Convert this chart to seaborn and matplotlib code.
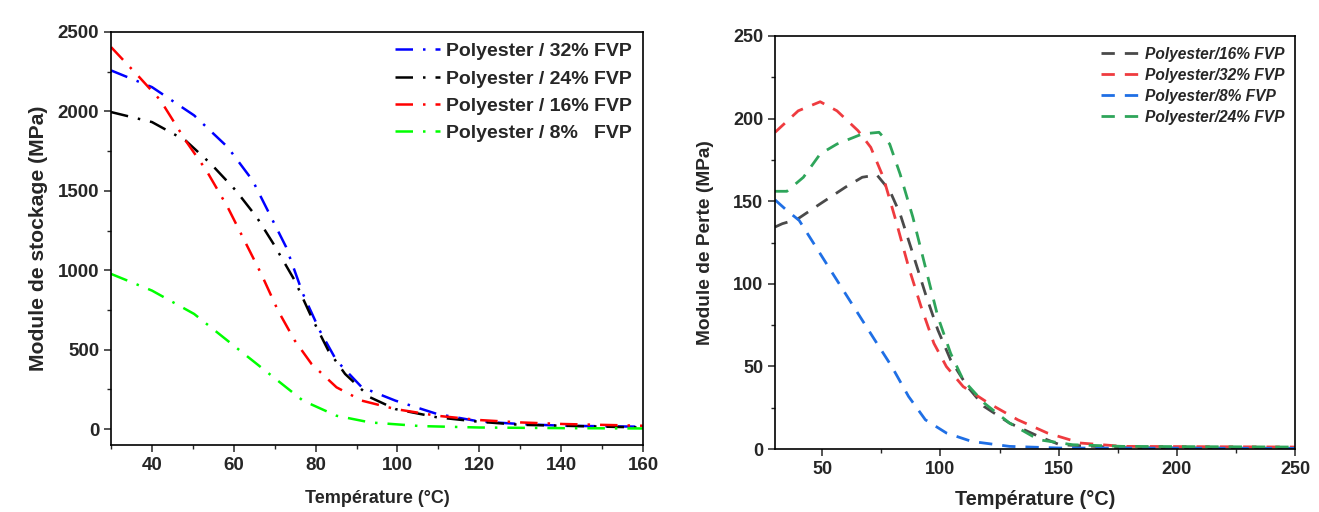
import numpy as np
import pandas as pd
import matplotlib
matplotlib.use("Agg")
import matplotlib.pyplot as plt
import seaborn as sns
from matplotlib.ticker import MultipleLocator

# ---------------- Left: storage modulus ----------------
t32 = [30, 40, 50.3, 58.5, 64.6, 68.7, 72.8, 76.9, 81, 85.1, 91.3, 99.5, 109.7, 120, 130, 140.5, 160]
e32 = [2258, 2153, 1975, 1775, 1565, 1355, 1145, 851, 620, 431, 263, 179, 95, 48, 32, 21, 15]

t24 = [30, 40, 48.2, 54.4, 60.5, 65.6, 69.7, 74.9, 79, 83.1, 87.2, 93.3, 99.5, 109.7, 120, 130, 160]
e24 = [1996, 1933, 1817, 1670, 1502, 1334, 1166, 935, 704, 494, 347, 200, 126, 74, 46, 27, 10]

t16 = [30, 36.9, 42.1, 48.2, 53.3, 58.5, 62.6, 66.7, 70.8, 74.9, 79, 85.1, 91.3, 99.5, 109.7, 120, 130, 140.5, 160]
e16 = [2405, 2216, 2069, 1817, 1628, 1397, 1187, 977, 746, 557, 410, 263, 179, 126, 84, 57, 42, 32, 21]

t08 = [30, 40, 50.3, 60.5, 68.7, 76.9, 85.1, 93.3, 105.6, 120, 140.5, 160]
e08 = [977, 872, 725, 515, 347, 179, 84, 42, 19, 10, 6, 4]

left_labels = ["Polyester / 32% FVP", "Polyester / 24% FVP", "Polyester / 16% FVP", "Polyester / 8%   FVP"]
left_colors = ["#0000ff", "#000000", "#ff0000", "#00ff00"]

# ---------------- Right: loss modulus ----------------
p16_t = [30, 33.1, 39.3, 49.1, 59.8, 66.9, 73.1, 78.5, 82.9, 88.3, 93.6, 98.9, 104.3, 111.4, 118.5, 129.2, 141.6, 150.5, 177, 250]
p16_v = [134.4, 136.4, 139, 148.4, 158.5, 164.5, 165.9, 156.5, 142.4, 118.3, 94.1, 72, 53.9, 37.8, 25.7, 15.7, 7.6, 2.6, 0.8, 0.4]

p32_t = [30, 39.8, 49.1, 56.2, 65.1, 70.5, 75.8, 81.1, 86.5, 91.8, 97.2, 102.5, 109.6, 120.3, 132.7, 145.2, 159.4, 177.2, 250]
p32_v = [191.7, 204.7, 210.2, 204.7, 192.7, 182.6, 164.5, 138.4, 110.2, 86.1, 64, 49.9, 37.8, 27.8, 17.7, 9.7, 3.6, 1.6, 1.2]

p08_t = [30, 35, 40.2, 47.3, 54.4, 63.3, 72.2, 79.4, 86.5, 93.6, 102.5, 113.2, 129.2, 150.5, 250]
p08_v = [150.8, 144.4, 138.4, 122.3, 106.2, 86.1, 66, 49.9, 31.8, 17.7, 9.7, 4.6, 1.6, 0.6, 0.4]

p24_t = [30, 35, 42, 49.1, 56.2, 66.9, 74, 78.5, 82.9, 88.3, 93.6, 98.9, 104.3, 109.6, 118.5, 129.2, 141.6, 155.9, 177, 250]
p24_v = [156, 156, 164.5, 178.6, 184.6, 190.7, 191.7, 184.6, 166.5, 140.4, 110.2, 80, 57.9, 41.8, 27.8, 15.7, 5.6, 2.6, 1.6, 1.2]

right_labels = ["Polyester/16% FVP", "Polyester/32% FVP", "Polyester/8% FVP", "Polyester/24% FVP"]
right_colors = ["#4a4a4a", "#ef3b3f", "#1f6fe5", "#2ea55a"]

sns.set_style("ticks")
plt.rcParams['font.family'] = ['Liberation Sans', 'DejaVu Sans']
plt.rcParams['font.weight'] = 'bold'
plt.rcParams['axes.labelweight'] = 'bold'

fig = plt.figure(figsize=(13.19, 5.12), dpi=100)
ax1 = fig.add_axes([0.0842, 0.1309, 0.4033, 0.8066])
ax2 = fig.add_axes([0.5876, 0.123, 0.3942, 0.8067])

left_series = [(t32, e32), (t24, e24), (t16, e16), (t08, e08)]
for (tx, ty), lab, col in zip(left_series, left_labels, left_colors):
    df = pd.DataFrame({"T": tx, "E": ty})
    sns.lineplot(data=df, x="T", y="E", ax=ax1, color=col, lw=1.8,
                 linestyle=(0, (7, 4, 1.0, 4)), label=lab, sort=True)

right_series = [(p16_t, p16_v), (p32_t, p32_v), (p08_t, p08_v), (p24_t, p24_v)]
for (tx, ty), lab, col in zip(right_series, right_labels, right_colors):
    df = pd.DataFrame({"T": tx, "E": ty})
    sns.lineplot(data=df, x="T", y="E", ax=ax2, color=col, lw=2.0,
                 linestyle=(0, (4.8, 3.6)), label=lab, sort=True)

# Left axes formatting
ax1.set_xlim(30, 160)
ax1.set_ylim(-100, 2500)
ax1.xaxis.set_major_locator(MultipleLocator(20))
ax1.xaxis.set_minor_locator(MultipleLocator(10))
ax1.yaxis.set_major_locator(MultipleLocator(500))
ax1.yaxis.set_minor_locator(MultipleLocator(250))
ax1.set_xlabel("Température (°C)", fontsize=13, fontweight='bold', labelpad=12)
ax1.set_ylabel("Module de stockage (MPa)", fontsize=15.2, fontweight='bold', labelpad=7)
leg1 = ax1.legend(loc="upper right", frameon=False, fontsize=14, handlelength=2.3,
                  labelspacing=0.5, handletextpad=0.35, borderaxespad=0.25, borderpad=0.3)
for txt in leg1.get_texts():
    txt.set_fontweight('bold')

# Right axes formatting
ax2.set_xlim(30, 250)
ax2.set_ylim(0, 250)
ax2.xaxis.set_major_locator(MultipleLocator(50))
ax2.xaxis.set_minor_locator(MultipleLocator(25))
ax2.yaxis.set_major_locator(MultipleLocator(50))
ax2.yaxis.set_minor_locator(MultipleLocator(25))
ax2.set_xlabel("Température (°C)", fontsize=14.3, fontweight='bold', labelpad=9)
ax2.set_ylabel("Module de Perte (MPa)", fontsize=13.8, fontweight='bold', labelpad=14)
leg2 = ax2.legend(loc="upper right", frameon=False, fontsize=11.2, handlelength=2.4,
                  labelspacing=0.38, handletextpad=0.4, borderaxespad=0.3, borderpad=0.4)
for txt in leg2.get_texts():
    txt.set_fontweight('bold')
    txt.set_fontstyle('italic')

for ax, ls in ((ax1, 13.5), (ax2, 13)):
    for sp in ax.spines.values():
        sp.set_visible(True)
        sp.set_linewidth(1.2)
        sp.set_color("black")
    ax.tick_params(which='major', direction='out', length=5, width=1.1, labelsize=ls,
                   top=False, right=False)
    ax.tick_params(which='minor', direction='out', length=3, width=1.0, top=False, right=False)
    for lbl in ax.get_xticklabels() + ax.get_yticklabels():
        lbl.set_fontweight('bold')

fig.savefig("out.png", dpi=100)
